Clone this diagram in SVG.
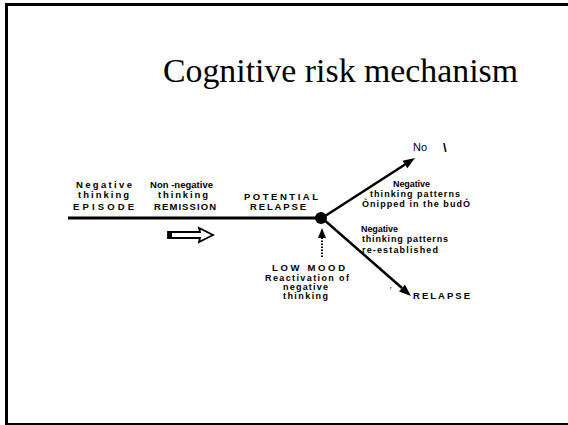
<svg xmlns="http://www.w3.org/2000/svg" width="568" height="425" viewBox="0 0 568 425">
<style>
.t{font-family:"Liberation Sans",Arial,sans-serif;font-weight:bold;font-size:9.5px;fill:#000}
.s{font-family:"Liberation Sans",Arial,sans-serif;font-weight:bold;font-size:9px;fill:#000}
.title{font-family:"Liberation Serif","Times New Roman",serif;font-size:33px;fill:#000}
.ln{stroke:#000;fill:none}
</style>
<rect width="568" height="425" fill="#fff"/>
<g id="frame">
<line x1="6.5" y1="3" x2="6.5" y2="425" stroke="#000" stroke-width="3"/>
<line x1="5" y1="4.5" x2="568" y2="4.5" stroke="#000" stroke-width="3"/>
<line x1="5" y1="424" x2="568" y2="424" stroke="#000" stroke-width="2"/>
</g>
<text class="title" x="163" y="82" textLength="355" lengthAdjust="spacingAndGlyphs">Cognitive risk mechanism</text>
<g id="connectors">
<line class="ln" x1="68" y1="218" x2="318" y2="218" stroke-width="3"/>
<line class="ln" x1="322" y1="218" x2="405" y2="164.5" stroke-width="2.5"/>
<polygon points="415,158 407.3,168.3 402.5,160.7" fill="#000"/>
<line class="ln" x1="322" y1="218" x2="402" y2="288" stroke-width="2.5"/>
<polygon points="411,296 399,291.5 405,284.7" fill="#000"/>
<line class="ln" x1="322" y1="257" x2="322" y2="237" stroke-width="2" stroke-dasharray="1.5 1.5"/>
<polygon points="322,228 318,238 326,238" fill="#000"/>
</g>
<g id="episode">
<text class="t" x="76" y="188" textLength="56" lengthAdjust="spacing">Negative</text>
<text class="t" x="78" y="198" textLength="51" lengthAdjust="spacing">thinking</text>
<text class="t" x="73" y="210" textLength="61" lengthAdjust="spacing">EPISODE</text>
</g>
<g id="remission">
<text class="t" x="150" y="188" textLength="63" lengthAdjust="spacing">Non -negative</text>
<text class="t" x="158" y="198" textLength="50" lengthAdjust="spacing">thinking</text>
<text class="t" x="154" y="210" textLength="62" lengthAdjust="spacing">REMISSION</text>
<polygon points="168,232 200,232 199,228 213,235 199,242 200,238 168,238" fill="#fff" stroke="#000" stroke-width="1.8"/>
<rect x="168" y="231" width="4" height="8" fill="#000"/>
</g>
<g id="potential-relapse">
<text class="t" x="244" y="200" textLength="74" lengthAdjust="spacing">POTENTIAL</text>
<text class="t" x="250" y="210" textLength="56" lengthAdjust="spacing">RELAPSE</text>
<circle cx="321" cy="218" r="6" fill="#000"/>
</g>
<g id="no">
<text x="413" y="151" font-family="Liberation Sans,Arial,sans-serif" font-size="11">No</text>
<text x="443" y="152" font-family="Liberation Sans,Arial,sans-serif" font-size="13" font-weight="bold">\</text>
<text class="s" x="393" y="187" textLength="37" lengthAdjust="spacing">Negative</text>
<text class="s" x="370" y="197" textLength="90" lengthAdjust="spacing">thinking patterns</text>
<text class="s" x="362" y="207" textLength="108" lengthAdjust="spacing">Ònipped in the budÓ</text>
</g>
<g id="low-mood">
<text class="t" x="272" y="271" font-size="10" textLength="73" lengthAdjust="spacing">LOW MOOD</text>
<text class="s" x="265" y="281" textLength="84" lengthAdjust="spacing">Reactivation of</text>
<text class="s" x="283" y="290" textLength="45" lengthAdjust="spacing">negative</text>
<text class="s" x="283" y="299" textLength="45" lengthAdjust="spacing">thinking</text>
</g>
<g id="relapse">
<text class="s" x="361" y="232" textLength="37" lengthAdjust="spacing">Negative</text>
<text class="s" x="362" y="242" textLength="86" lengthAdjust="spacing">thinking patterns</text>
<text class="s" x="362" y="253" textLength="76" lengthAdjust="spacing">re-established</text>
<text x="390" y="290" font-family="Liberation Sans,Arial,sans-serif" font-size="5">r</text>
<text class="t" x="413" y="299" textLength="57" lengthAdjust="spacing">RELAPSE</text>
</g>
</svg>
